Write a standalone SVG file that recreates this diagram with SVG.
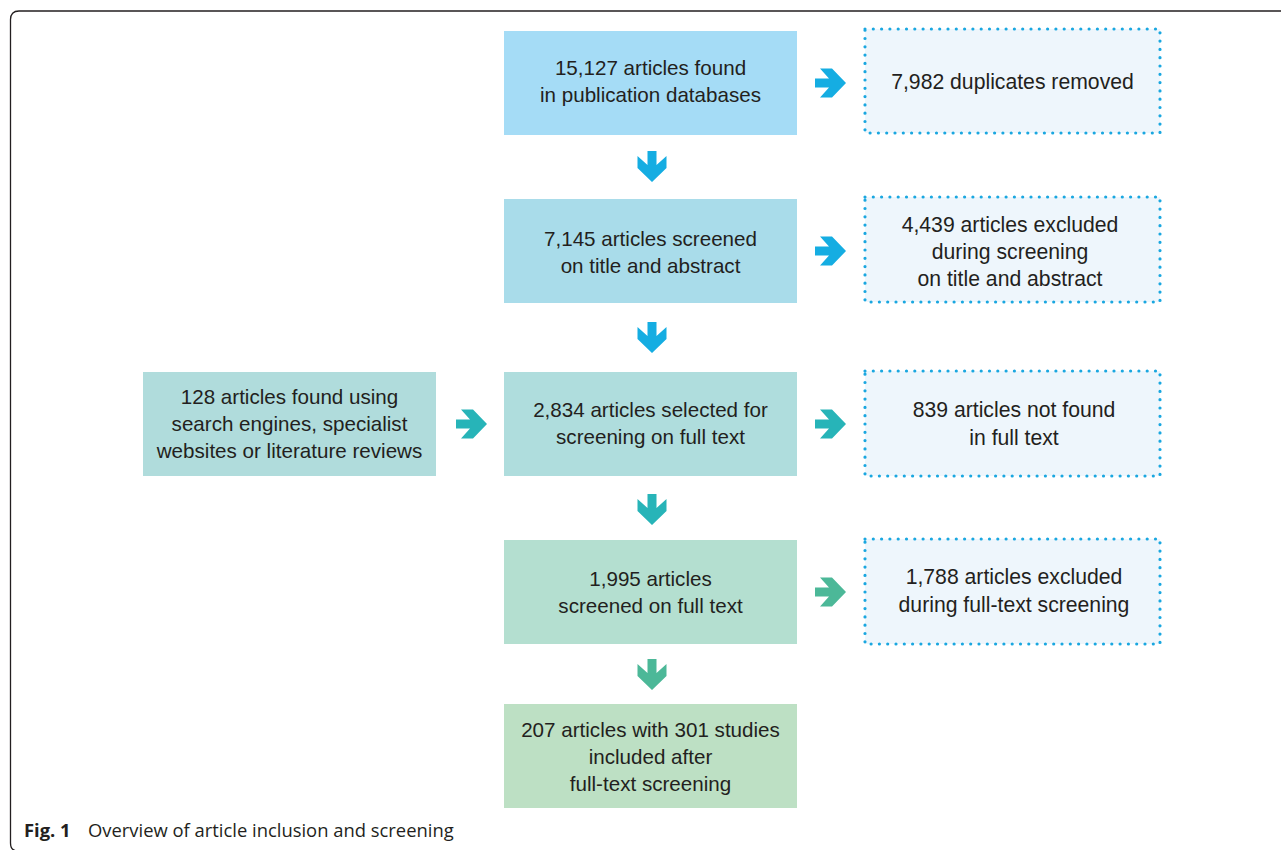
<svg xmlns="http://www.w3.org/2000/svg" width="1281" height="850" viewBox="0 0 1281 850">
<defs>
<style>
.t{font-family:"Liberation Sans",Arial,sans-serif;font-size:20.6px;fill:#231f20;text-anchor:middle}
.u{font-family:"Liberation Sans",Arial,sans-serif;font-size:21.2px;fill:#231f20;text-anchor:middle}
.dot{fill:#eef6fc;stroke:#1aa7e0;stroke-width:3.2;stroke-linecap:round;stroke-dasharray:0 8.3}
.cap{font-family:"Open Sans","Liberation Sans",sans-serif;font-size:18.4px;fill:#231f20}
</style>
<path id="ad" d="M -4.5,0 H 4.5 V 14 L 14.5,5 V 17 L 0,31 L -14.5,17 V 5 L -4.5,14 Z"/>
</defs>
<rect width="1281" height="850" fill="#fff"/>
<path d="M 1295,11 H 19 Q 10.5,11 10.5,19.5 V 843 Q 10.5,851 18,851" fill="none" stroke="#231f20" stroke-width="1.3"/>

<g id="n1"><rect x="504" y="31" width="293" height="104" fill="#a5dcf6"/>
<text class="t" x="650.5" y="75">15,127 articles found</text><text class="t" x="650.5" y="102">in publication databases</text></g>
<g id="n2"><rect x="504" y="199" width="293" height="104" fill="#a9dcea"/>
<text class="t" x="650.5" y="246">7,145 articles screened</text><text class="t" x="650.5" y="273">on title and abstract</text></g>
<g id="n3"><rect x="504" y="372" width="293" height="104" fill="#afdddd"/>
<text class="t" x="650.5" y="417">2,834 articles selected for</text><text class="t" x="650.5" y="444">screening on full text</text></g>
<g id="n4"><rect x="504" y="540" width="293" height="104" fill="#b4dfd0"/>
<text class="t" x="650.5" y="586">1,995 articles</text><text class="t" x="650.5" y="613">screened on full text</text></g>
<g id="n5"><rect x="504" y="704" width="293" height="104" fill="#bde0c4"/>
<text class="t" x="650.5" y="737">207 articles with 301 studies</text><text class="t" x="650.5" y="764">included after</text><text class="t" x="650.5" y="791">full-text screening</text></g>
<g id="n6"><rect x="143" y="372" width="293" height="104" fill="#b0dcdc"/>
<text class="t" x="289.5" y="404">128 articles found using</text><text class="t" x="289.5" y="431">search engines, specialist</text><text class="t" x="289.5" y="458">websites or literature reviews</text></g>

<g id="d1"><rect class="dot" x="865" y="29" width="295" height="104"/>
<text class="u" x="1012.5" y="89">7,982 duplicates removed</text></g>
<g id="d2"><rect class="dot" x="865" y="197" width="295" height="105"/>
<text class="u" x="1010" y="232">4,439 articles excluded</text><text class="u" x="1010" y="259">during screening</text><text class="u" x="1010" y="286">on title and abstract</text></g>
<g id="d3"><rect class="dot" x="865" y="371" width="295" height="105"/>
<text class="u" x="1014" y="417">839 articles not found</text><text class="u" x="1014" y="445">in full text</text></g>
<g id="d4"><rect class="dot" x="865" y="539" width="295" height="105"/>
<text class="u" x="1014" y="584">1,788 articles excluded</text><text class="u" x="1014" y="612">during full-text screening</text></g>

<g id="connectors">
<use href="#ad" transform="translate(652,151)" fill="#15ade2"/>
<use href="#ad" transform="translate(652,322)" fill="#15ade2"/>
<use href="#ad" transform="translate(652,494)" fill="#27b4b8"/>
<use href="#ad" transform="translate(652,659)" fill="#4cb898"/>
<use href="#ad" transform="translate(815,83) rotate(-90)" fill="#15ade2"/>
<use href="#ad" transform="translate(815,251) rotate(-90)" fill="#15ade2"/>
<use href="#ad" transform="translate(815,424) rotate(-90)" fill="#27b4b8"/>
<use href="#ad" transform="translate(815,592) rotate(-90)" fill="#4cb898"/>
<use href="#ad" transform="translate(456,424) rotate(-90)" fill="#27b4b8"/>
</g>

<text class="cap" x="24" y="836.5"><tspan font-weight="bold">Fig. 1</tspan><tspan x="88">Overview of article inclusion and screening</tspan></text>
</svg>
